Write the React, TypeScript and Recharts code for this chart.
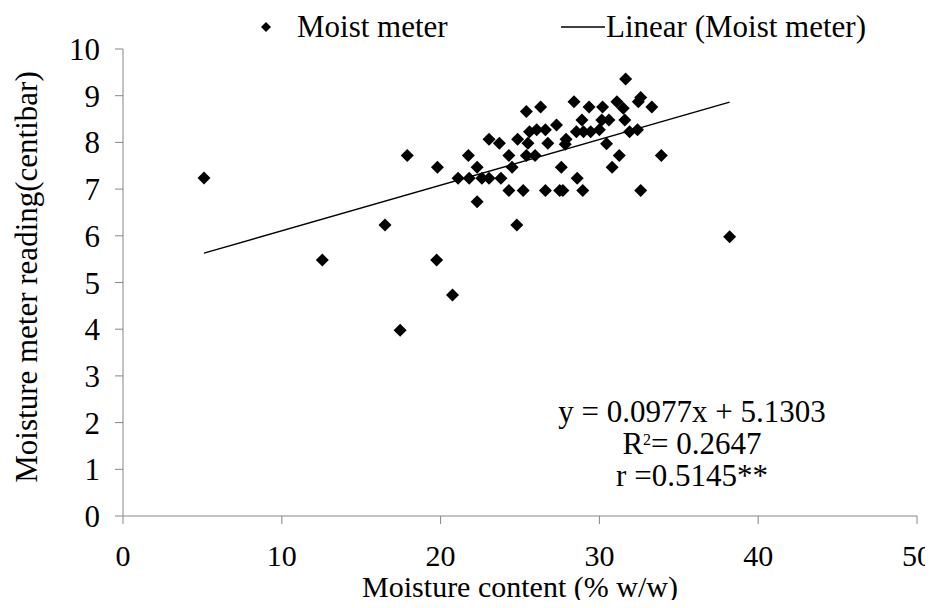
import React from 'react';
import { ScatterChart, Scatter, XAxis, YAxis } from 'recharts';

// Moisture content (% w/w)
const moistureContent: number[] = [
  5.1, 12.55, 16.5, 17.45, 17.9, 19.75, 19.8, 20.75, 21.1, 21.75,
  21.8, 22.3, 22.3, 22.6, 23.05, 23.05, 23.7, 23.8, 24.3, 24.5,
  24.3, 24.8, 24.85, 25.2, 25.4, 25.4, 25.5, 25.6, 25.95, 26.05,
  26.3, 26.6, 26.6, 26.75, 27.3, 27.5, 27.7, 27.6, 27.9, 27.85,
  28.4, 28.55, 28.6, 28.9, 28.95, 29.0, 29.35, 29.45, 30.0, 30.15,
  30.2, 30.45, 30.6, 30.8, 31.1, 31.25, 31.5, 31.6, 31.65, 31.9,
  32.4, 32.45, 32.6, 32.6, 33.3, 33.9, 38.2,
];
// Moisture meter reading (centibar)
const meterReading: number[] = [
  7.24, 5.48, 6.23, 3.98, 7.72, 5.48, 7.47, 4.73, 7.23, 7.72,
  7.23, 7.47, 6.73, 7.23, 8.07, 7.23, 7.98, 7.23, 7.72, 7.47,
  6.97, 6.23, 8.07, 6.97, 8.66, 7.72, 7.98, 8.23, 7.72, 8.27,
  8.76, 8.27, 6.97, 7.98, 8.37, 6.97, 6.97, 7.47, 8.07, 7.96,
  8.87, 8.23, 7.23, 8.48, 6.97, 8.23, 8.76, 8.23, 8.27, 8.48,
  8.76, 7.97, 8.48, 7.47, 8.87, 7.72, 8.73, 8.48, 9.36, 8.23,
  8.27, 8.87, 8.96, 6.97, 8.76, 7.72, 5.98,
];
const xTicks: number[] = [0, 10, 20, 30, 40, 50];
const yTicks: number[] = [0, 1, 2, 3, 4, 5, 6, 7, 8, 9, 10];

const slope = 0.0977;
const intercept = 5.1303;
const equationText = 'y = 0.0977x + 5.1303';
const r2Text = '= 0.2647';
const rText = 'r =0.5145**';
const seriesName = 'Moist meter';
const trendName = 'Linear (Moist meter)';
const xTitle = 'Moisture content (% w/w)';
const yTitle = 'Moisture meter reading(centibar)';

const points = moistureContent.map((x, i) => ({ x, y: meterReading[i] }));
const xMin = Math.min(...moistureContent);
const xMax = Math.max(...moistureContent);
const trendData = [xMin, xMax].map((x) => ({ x, y: slope * x + intercept }));

const FONT = '"Liberation Serif", "Times New Roman", serif';
const W = 933;
const H = 608;
const AXIS = '#868686';

const Diamond = (props: any) => {
  const { cx, cy } = props;
  if (cx == null || cy == null) return <g />;
  const r = 6.5;
  return (
    <polygon
      points={`${cx},${cy - r} ${cx + r},${cy} ${cx},${cy + r} ${cx - r},${cy}`}
      fill="#000"
    />
  );
};

const NoShape = () => <g />;

export default function App() {
  return (
    <div
      style={{
        position: 'relative',
        width: W,
        height: H,
        marginTop: -8,
        marginLeft: -8,
        marginBottom: -8,
        background: '#fff',
      }}
    >
      <ScatterChart
        width={W}
        height={H}
        margin={{ top: 49, right: 16, bottom: 62, left: 0 }}
      >
        <XAxis
          type="number"
          dataKey="x"
          domain={[0, 50]}
          ticks={xTicks}
          interval={0}
          allowDataOverflow
          stroke={AXIS}
          height={30}
          tickSize={8}
          tickMargin={21}
          tick={{ fill: '#000', fontSize: 30, fontFamily: FONT }}
        />
        <YAxis
          type="number"
          dataKey="y"
          domain={[0, 10]}
          ticks={yTicks}
          interval={0}
          width={123}
          stroke={AXIS}
          tickSize={8}
          tickMargin={15}
          tick={{ fill: '#000', fontSize: 31, fontFamily: FONT }}
        />
        <Scatter
          name={trendName}
          data={trendData}
          line={{ stroke: '#000', strokeWidth: 1.3 }}
          shape={NoShape}
          isAnimationActive={false}
        />
        <Scatter
          name={seriesName}
          data={points}
          shape={Diamond}
          isAnimationActive={false}
        />
      </ScatterChart>
      <svg
        width={W}
        height={H}
        style={{ position: 'absolute', left: 0, top: 0, pointerEvents: 'none' }}
        fontFamily={FONT}
      >
        {/* Legend */}
        <polygon points="266,22 271,27 266,32 261,27" fill="#000" />
        <text x={297} y={37} fontSize={31} fill="#000">
          {seriesName}
        </text>
        <line x1={561} y1={27} x2={605} y2={27} stroke="#000" strokeWidth={1.3} />
        <text x={606} y={37} fontSize={31} fill="#000">
          {trendName}
        </text>
        {/* Equation */}
        <text x={692} y={422} fontSize={31} textAnchor="middle" fill="#000">
          {equationText}
        </text>
        <text x={692} y={454} fontSize={31} textAnchor="middle" fill="#000">
          R<tspan fontSize={16} dy={-9}>2</tspan>
          <tspan dy={9}>{r2Text}</tspan>
        </text>
        <text x={692} y={486} fontSize={31} textAnchor="middle" fill="#000">
          {rText}
        </text>
        {/* Axis titles */}
        <text x={520} y={597} fontSize={30} textAnchor="middle" fill="#000">
          {xTitle}
        </text>
        <text
          x={0}
          y={0}
          fontSize={31}
          textAnchor="middle"
          fill="#000"
          transform="translate(37,277) rotate(-90)"
        >
          {yTitle}
        </text>
      </svg>
    </div>
  );
}
